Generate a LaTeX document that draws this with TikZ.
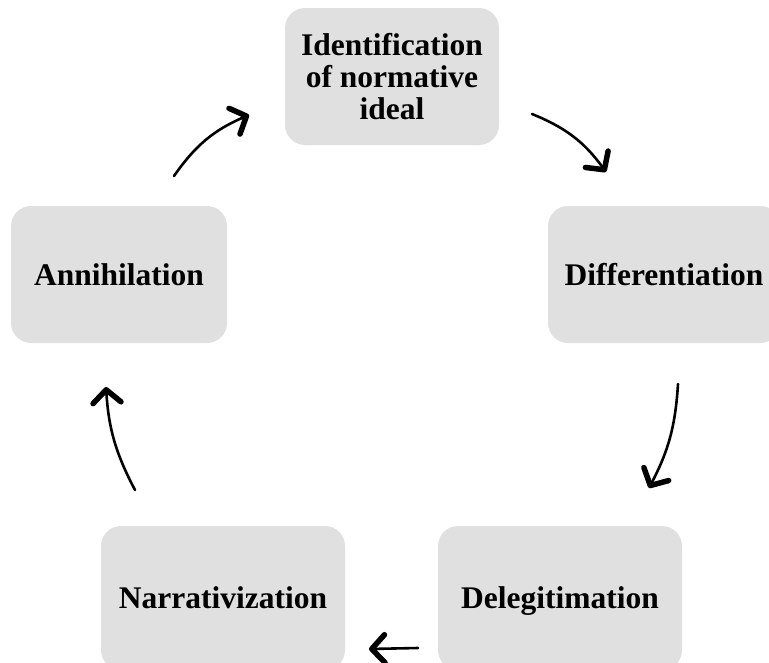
\documentclass[tikz,border=0pt]{standalone}
\usepackage{fontspec}
\setmainfont{Liberation Serif}
\usetikzlibrary{arrows.meta}
\definecolor{boxgray}{HTML}{E0E0E0}
\tikzset{
  stage/.style={draw=none, fill=boxgray, rounded corners=20pt, align=center,
    font=\fontsize{31.5}{32}\selectfont\bfseries, minimum height=137pt, inner sep=0pt},
  oneline/.style={text height=24pt, text depth=3pt},
  flow/.style={line width=2.6pt, line cap=round,
    -{Straight Barb[length=13pt, width=28pt, line width=5.5pt, round]}}
}
\begin{document}
\begin{tikzpicture}[x=1pt,y=-1pt]
\useasboundingbox (0,0) rectangle (769,662);
\clip (0,0) rectangle (769,662);
\node[stage, minimum width=214pt] (ideal) at (392,76.5) {Identification\\of normative\\ideal};
\node[stage, oneline, minimum width=216pt] (ann) at (119,274.5) {Annihilation};
\node[stage, oneline, minimum width=232pt] (diff) at (664,274.5) {Differentiation};
\node[stage, oneline, minimum width=244pt, minimum height=144pt] (narr) at (223,598) {Narrativization};
\node[stage, oneline, minimum width=244pt, minimum height=144pt] (deleg) at (560,598) {Delegitimation};
\coordinate (a1s) at (174,176); \coordinate (a1e) at (249,115);
\coordinate (a2s) at (532,114); \coordinate (a2e) at (606,172);
\coordinate (a3s) at (678,384); \coordinate (a3e) at (649,488);
\coordinate (a4s) at (418,648); \coordinate (a4e) at (369,649);
\coordinate (a5s) at (135,490); \coordinate (a5e) at (106,387);
\draw[flow] (a1s) to[bend left=16] (a1e);
\draw[flow] (a2s) to[bend left=16] (a2e);
\draw[flow] (a3s) to[bend left=12] (a3e);
\draw[flow] (a4s) -- (a4e);
\draw[flow] (a5s) to[bend left=12] (a5e);
\end{tikzpicture}
\end{document}
